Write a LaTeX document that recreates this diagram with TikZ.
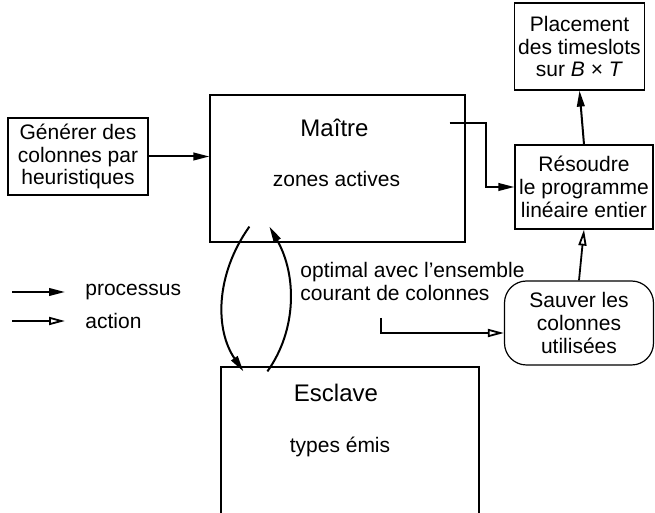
\documentclass[tikz,border=0pt]{standalone}
\usepackage{fontspec}
\setmainfont{Liberation Sans}
\usetikzlibrary{arrows.meta,calc}

\begin{document}
\begin{tikzpicture}[x=0.5pt,y=-0.5pt,
		boite/.style={draw,line width=0.6pt,inner sep=0pt,align=center,font=\fontsize{10.5}{11.4}\selectfont},
		titre/.style={font=\fontsize{12}{14}\selectfont},
		texte/.style={font=\fontsize{10.5}{11.4}\selectfont},
		flecheprocessus/.style={line width=1pt,-{Triangle[length=8pt,width=3.8pt]}},
		flecheaction/.style={line width=0.9pt,-{Triangle[open,length=8pt,width=4pt]}}]
		\clip (0,0) rectangle (655,513);
		% boites
		\node[boite,minimum width=70pt,minimum height=38.5pt] (generer) at (78,156.5) {Générer des\\colonnes par\\heuristiques};
		\node[boite,minimum width=127.5pt,minimum height=73.5pt] (maitre) at (337.5,168.5) {};
		\node[titre] (maitretitre) at ($(maitre.north)+(-3,33)$) {Maître};
		\node[texte] (zones) at ($(maitre.north)+(-1,85)$) {zones actives};
		\node[boite,minimum width=129pt,minimum height=86.5pt] (esclave) at (350,453.5) {};
		\node[titre] (esclavetitre) at ($(esclave.north)+(-14,27)$) {Esclave};
		\node[texte] (types) at ($(esclave.north)+(-10,81)$) {types émis};
		\node[boite,minimum width=65pt,minimum height=43.5pt] (placement) at (579.5,46.5) {Placement\\des timeslots\\sur \textit{B} × \textit{T}};
		\node[boite,minimum width=69pt,minimum height=42pt] (resoudre) at (584,187) {Résoudre\\le programme\\linéaire entier};
		\node[boite,rounded corners=11pt,minimum width=74.5pt,minimum height=42pt] (sauver) at (579,323) {Sauver les\\colonnes\\utilisées};
		\node[texte,anchor=north west,align=left,inner sep=0pt] (optimal) at (300,262) {optimal avec l’ensemble\\courant de colonnes};
		% fleches
		\draw[flecheprocessus] (generer.east) -- (maitre.west |- generer.east);
		\coordinate (depart) at ($(maitre.north east)+(-16,29)$);
		\draw[flecheprocessus] (depart) -- ++(36,0) |- (resoudre.west);
		\draw[flecheprocessus] (resoudre.north) -- (placement.south);
		\draw[flecheaction] (sauver.north) -- (resoudre.south);
		\coordinate (optdepart) at (381,318);
		\coordinate (optcoin) at (381,333);
		\draw[flecheaction] (optdepart) -- (optcoin) -- (optcoin -| sauver.west);
		\coordinate (mhaut) at ($(maitre.south west)+(40,-16)$);
		\coordinate (ebas) at ($(esclave.north west)+(23,5)$);
		\coordinate (ehaut) at ($(esclave.north west)+(47,5)$);
		\coordinate (mbas) at ($(maitre.south west)+(60,-16)$);
		\draw[flecheprocessus] (mhaut) .. controls (215,275) and (215,330) .. (ebas);
		\draw[flecheprocessus] (ehaut) .. controls (297,330) and (297,275) .. (mbas);
		% legende
		\node[texte,anchor=west,inner sep=0pt] (processus) at (85,292) {processus};
		\node[texte,anchor=west,inner sep=0pt] (action) at (85,321) {action};
		\draw[flecheprocessus] ($(processus.west)+(-73,0)$) -- ($(processus.west)+(-20,0)$);
		\draw[flecheaction] ($(action.west)+(-73,0)$) -- ($(action.west)+(-20,0)$);
	\end{tikzpicture}
\end{document}
